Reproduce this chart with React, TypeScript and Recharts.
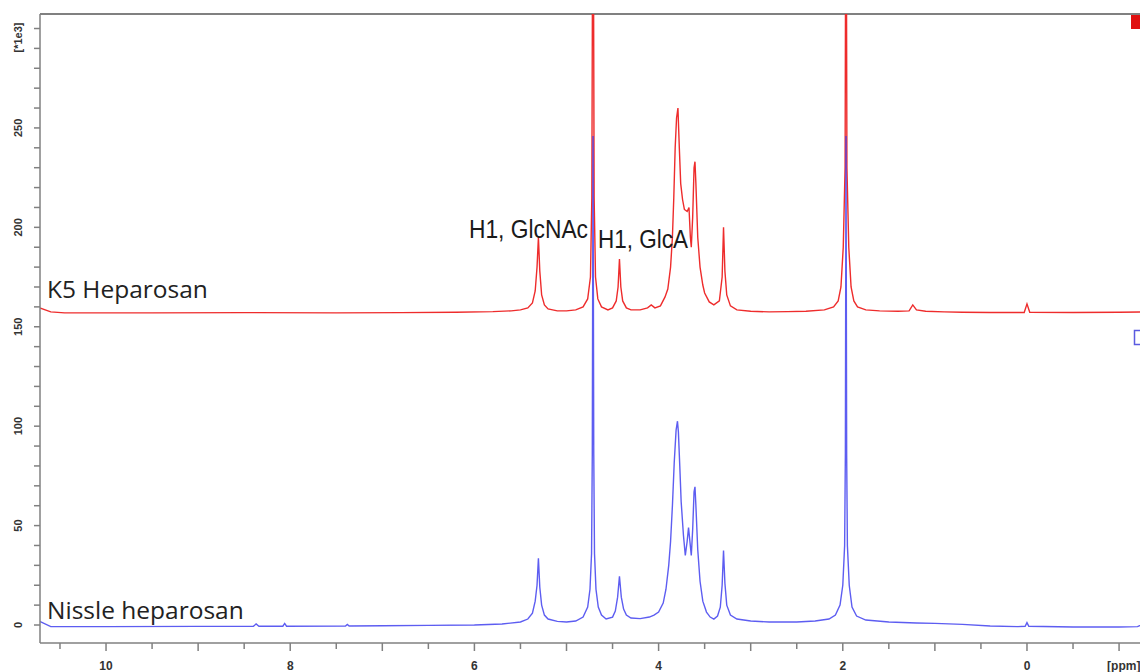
import { LineChart, Line, XAxis, YAxis, ReferenceLine } from 'recharts'

// [ppm, intensity (*1e3)]
const k5Heparosan: [number, number][] = [
  [10.75, 160], [10.6, 157.5], [10.45, 157], [9.5, 157], [8.5, 157.1], [7.5, 157], [6.8, 157.1], [6.2, 157.3],
  [5.8, 157.6], [5.6, 158], [5.5, 158.5], [5.42, 159.5], [5.37, 162], [5.34, 168], [5.32, 180], [5.305, 195],
  [5.29, 178], [5.27, 166], [5.24, 161], [5.2, 159], [5.1, 158], [5.0, 158], [4.9, 158.5], [4.82, 160],
  [4.77, 164], [4.74, 175], [4.725, 215], [4.712, 420], [4.7, 215], [4.685, 175], [4.66, 164], [4.62, 160],
  [4.55, 158.5], [4.5, 159.5], [4.46, 163], [4.44, 170], [4.425, 184], [4.41, 170], [4.39, 163], [4.35, 159.5],
  [4.3, 158.5], [4.2, 158.5], [4.12, 159.5], [4.08, 161], [4.04, 159.5], [3.98, 160.5], [3.93, 165], [3.9, 169],
  [3.87, 180], [3.85, 195], [3.835, 215], [3.82, 240], [3.805, 255], [3.79, 260], [3.775, 240], [3.76, 222],
  [3.74, 214], [3.72, 209], [3.69, 208], [3.67, 210], [3.655, 195], [3.645, 190], [3.63, 205], [3.615, 230],
  [3.605, 233], [3.595, 222], [3.575, 195], [3.55, 180], [3.52, 171], [3.5, 167], [3.45, 162.5], [3.4, 161],
  [3.34, 163], [3.31, 175], [3.295, 200], [3.28, 178], [3.26, 166], [3.22, 160.5], [3.15, 158.5], [3.0, 157.8],
  [2.8, 157.5], [2.6, 157.6], [2.4, 157.8], [2.2, 158.5], [2.1, 160], [2.05, 163], [2.02, 170], [1.995, 190],
  [1.975, 230], [1.965, 420], [1.955, 230], [1.935, 190], [1.91, 170], [1.88, 163], [1.84, 160], [1.75, 158.5],
  [1.6, 158], [1.4, 157.8], [1.28, 158], [1.24, 161], [1.2, 158.5], [1.1, 157.8], [0.9, 157.5], [0.7, 157.3],
  [0.4, 157.2], [0.03, 157.2], [0.0, 161.5], [-0.03, 157.3], [-0.5, 157.2], [-1.0, 157.3], [-1.3, 157.5], [-1.6, 158],
]

const nissleHeparosan: [number, number][] = [
  [10.75, 2.5], [10.6, -0.8], [10.0, -0.8], [9.0, -0.7], [8.4, -0.6], [8.37, 0.5], [8.34, -0.6], [8.08, -0.6],
  [8.06, 0.8], [8.04, -0.6], [7.4, -0.5], [7.38, 0.3], [7.36, -0.5], [7.0, -0.4], [6.5, -0.2], [6.0, 0],
  [5.7, 0.5], [5.5, 1.5], [5.42, 3], [5.37, 6], [5.34, 12], [5.32, 20], [5.305, 33.5], [5.29, 19],
  [5.27, 10], [5.24, 5], [5.2, 3], [5.1, 1.8], [5.0, 1.5], [4.9, 2], [4.82, 4], [4.77, 9],
  [4.745, 18], [4.728, 36], [4.72, 86], [4.712, 246], [4.704, 86], [4.696, 36], [4.68, 18], [4.655, 9],
  [4.62, 5], [4.57, 3], [4.5, 4], [4.47, 7], [4.445, 14], [4.425, 24.5], [4.405, 14], [4.38, 8],
  [4.35, 5], [4.3, 3.5], [4.2, 3.2], [4.1, 4], [4.05, 5], [4.0, 6.5], [3.95, 11], [3.92, 18],
  [3.89, 30], [3.87, 42], [3.85, 60], [3.83, 82], [3.81, 98], [3.795, 102.5], [3.785, 97], [3.77, 80],
  [3.755, 62], [3.73, 45], [3.71, 35], [3.69, 42], [3.675, 49], [3.66, 42], [3.645, 35], [3.63, 48],
  [3.615, 67], [3.605, 69.5], [3.595, 60], [3.575, 38], [3.55, 22], [3.52, 12], [3.48, 6.5], [3.44, 4],
  [3.4, 3], [3.36, 4.5], [3.33, 9], [3.31, 20], [3.295, 37.5], [3.28, 21], [3.26, 10], [3.22, 5],
  [3.15, 3], [3.0, 2], [2.8, 1.5], [2.5, 1.5], [2.3, 2], [2.15, 3], [2.08, 5], [2.03, 10],
  [2.0, 20], [1.98, 40], [1.972, 86], [1.965, 246], [1.958, 86], [1.95, 40], [1.93, 20], [1.9, 9],
  [1.85, 4.5], [1.75, 2.5], [1.5, 1.5], [1.2, 1], [1.0, 0.8], [0.7, 0.3], [0.4, -0.5], [0.1, -0.8],
  [0.02, -0.6], [0.0, 1.2], [-0.02, -0.6], [-0.5, -1], [-1.0, -1], [-1.2, -0.8], [-1.3, 1], [-1.6, 3],
]

const xTicks = [10.5, 10, 9.5, 9, 8.5, 8, 7.5, 7, 6.5, 6, 5.5, 5, 4.5, 4, 3.5, 3, 2.5, 2, 1.5, 1, 0.5, 0, -0.5, -1, -1.5]
const xLabels = [10, 8, 6, 4, 2, 0]
const yTicks = [0, 10, 20, 30, 40, 50, 60, 70, 80, 90, 100, 110, 120, 130, 140, 150, 160, 170, 180, 190, 200,
  210, 220, 230, 240, 250, 260, 270, 280, 290, 300]
const yLabels = [0, 50, 100, 150, 200, 250]
const seriesNames = ['K5 Heparosan', 'Nissle heparosan']
const peakNames = ['H1, GlcNAc', 'H1, GlcA']

const X_DOMAIN: [number, number] = [-1.553, 10.717]
const Y_DOMAIN: [number, number] = [-9.05, 307.3]

const k5Data = k5Heparosan.map(([ppm, v]) => ({ ppm, v }))
const nissleData = nissleHeparosan.map(([ppm, v]) => ({ ppm, v }))

const axisGrey = '#808080'
const tickFont = { fontFamily: '"Liberation Sans", Arial, sans-serif', fontWeight: 700, fontSize: 12, fill: '#333' }

function PpmTick(props: any) {
  const { x, y, payload } = props
  const v = payload.value
  const major = Number.isInteger(v)
  return (
    <g>
      <line x1={x} x2={x} y1={y} y2={y + (major ? 8 : 6)} stroke={axisGrey} strokeWidth={1.5} />
      {xLabels.includes(v) && (
        <text x={x} y={y + 27} textAnchor="middle" {...tickFont}>{v}</text>
      )}
      {v === -1 && (
        <text x={x - 12} y={y + 27} textAnchor="start" {...tickFont}>[ppm]</text>
      )}
    </g>
  )
}

function IntensityTick(props: any) {
  const { x, y, payload } = props
  const v = payload.value
  return (
    <g>
      <line x1={x - 6} x2={x} y1={y} y2={y} stroke={axisGrey} strokeWidth={1.5} />
      {yLabels.includes(v) && (
        <text transform={`translate(18, ${y}) rotate(-90)`} textAnchor="middle" dominantBaseline="central"
          {...tickFont} fontSize={11}>{v}</text>
      )}
      {v === 300 && (
        <text transform={`translate(18, ${y + 9}) rotate(-90)`} textAnchor="middle" dominantBaseline="central"
          {...tickFont} fontSize={11}>[*1e3]</text>
      )}
    </g>
  )
}

export default function App() {
  return (
    <div style={{ position: 'absolute', left: 0, top: 0, width: 1140, height: 672, overflow: 'hidden', background: '#fff' }}>
      <LineChart width={1180} height={672} margin={{ top: 14, right: 10, bottom: 0, left: 0 }}>
        <XAxis
          dataKey="ppm"
          type="number"
          domain={X_DOMAIN}
          allowDataOverflow
          reversed
          ticks={xTicks}
          interval={0}
          tick={<PpmTick />}
          tickSize={0}
          tickMargin={0}
          tickLine={false}
          height={29}
          axisLine={{ stroke: axisGrey, strokeWidth: 1.5 }}
        />
        <YAxis
          type="number"
          domain={Y_DOMAIN}
          allowDataOverflow
          ticks={yTicks}
          interval={0}
          tick={<IntensityTick />}
          tickSize={0}
          tickMargin={0}
          tickLine={false}
          width={40}
          axisLine={{ stroke: axisGrey, strokeWidth: 1.5 }}
        />
        <ReferenceLine y={Y_DOMAIN[1]} stroke={axisGrey} strokeWidth={2} />
        <Line
          data={k5Data}
          dataKey="v"
          name={seriesNames[0]}
          type="linear"
          stroke="#ee2c2c"
          strokeWidth={1.4}
          dot={false}
          isAnimationActive={false}
        />
        <Line
          data={nissleData}
          dataKey="v"
          name={seriesNames[1]}
          type="linear"
          stroke="#3535ee"
          strokeOpacity={0.8}
          strokeWidth={1.4}
          dot={false}
          isAnimationActive={false}
        />
      </LineChart>
      <svg width={1140} height={672} style={{ position: 'absolute', left: 0, top: 0, pointerEvents: 'none' }}>
        <g fontFamily='"Open Sans", sans-serif' fontSize={24.5} fill="#222">
          <text x={47} y={298}>{seriesNames[0]}</text>
          <text x={47} y={619}>{seriesNames[1]}</text>
        </g>
        <g fontFamily='"Liberation Sans", Arial, sans-serif' fontSize={25} fill="#1a1a1a">
          <text x={469} y={238} textLength={119} lengthAdjust="spacingAndGlyphs">{peakNames[0]}</text>
          <text x={598} y={248} textLength={90} lengthAdjust="spacingAndGlyphs">{peakNames[1]}</text>
        </g>
        <rect x={1131} y={15} width={14} height={14} fill="#e01010" />
        <rect x={1134.5} y={330.5} width={12} height={14} fill="none" stroke="#5a5ae0" strokeWidth={1.5} />
      </svg>
    </div>
  )
}
